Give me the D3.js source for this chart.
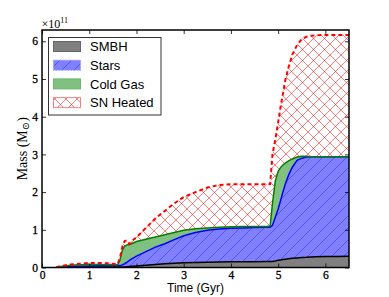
<!DOCTYPE html>
<html>
<head>
<meta charset="utf-8">
<script src="https://cdn.jsdelivr.net/npm/d3@7"></script>
<style>
    body { margin: 0; background: #fff; }
    svg { display: block; }
</style>
</head>
<body>
<div id="page"></div>
<script>
// data (masses in units of 1e11 Msun, cumulative tops of each band)
const time_gyr = [0.3, 0.4, 0.6, 0.8, 1.0, 1.2, 1.4, 1.6, 1.65, 1.7, 1.75, 1.8, 1.85, 1.9, 2.0, 2.2, 2.4, 2.6, 2.8, 3.0,
    3.25, 3.5, 3.75, 4.0, 4.25, 4.5, 4.75, 4.83, 4.88, 4.94, 5.0, 5.05, 5.1, 5.15, 5.22, 5.3, 5.4, 5.5, 5.6, 5.7,
    5.8, 6.0, 6.25, 6.5];
const smbh_top = [0, 0.005, 0.01, 0.01, 0.01, 0.01, 0.01, 0.01, 0.01, 0.012, 0.015, 0.02, 0.025, 0.03, 0.04, 0.06, 0.08, 0.1, 0.115, 0.125,
    0.135, 0.14, 0.145, 0.15, 0.152, 0.155, 0.157, 0.158, 0.16, 0.17, 0.19, 0.2, 0.21, 0.22, 0.235, 0.245, 0.255, 0.265, 0.27, 0.28,
    0.285, 0.29, 0.295, 0.3];
const stars_top = [0, 0.01, 0.03, 0.035, 0.04, 0.045, 0.045, 0.05, 0.05, 0.07, 0.1, 0.14, 0.19, 0.23, 0.3, 0.42, 0.54, 0.63, 0.74, 0.84,
    0.93, 0.99, 1.02, 1.04, 1.05, 1.06, 1.07, 1.07, 1.12, 1.33, 1.55, 1.77, 2.0, 2.21, 2.45, 2.66, 2.84, 2.9, 2.93, 2.94,
    2.94, 2.94, 2.94, 2.94];
const cold_gas_top = [0, 0.03, 0.06, 0.07, 0.08, 0.08, 0.075, 0.07, 0.2, 0.45, 0.57, 0.6, 0.61, 0.63, 0.69, 0.75, 0.81, 0.87, 0.93, 0.99,
    1.03, 1.05, 1.07, 1.08, 1.085, 1.09, 1.09, 1.1, 1.7, 2.3, 2.55, 2.65, 2.72, 2.77, 2.83, 2.88, 2.93, 2.95, 2.95, 2.94,
    2.94, 2.94, 2.94, 2.94];
const sn_heated_top = [0, 0.04, 0.08, 0.1, 0.12, 0.12, 0.11, 0.09, 0.25, 0.55, 0.7, 0.72, 0.62, 0.7, 0.8, 1.05, 1.3, 1.5, 1.7, 1.87,
    2.0, 2.12, 2.19, 2.21, 2.21, 2.21, 2.21, 2.21, 3.0, 3.4, 3.85, 4.25, 4.6, 4.96, 5.31, 5.65, 5.9, 6.06, 6.12, 6.15,
    6.16, 6.17, 6.17, 6.17];
const x_ticks = [0, 1, 2, 3, 4, 5, 6];
const y_ticks = [0, 1, 2, 3, 4, 5, 6];
const legend_labels = ["SMBH", "Stars", "Cold Gas", "SN Heated"];

// cons
const w = 389;
const h = 297;
const m_left = 42, m_right = 349, m_top = 30, m_bottom = 267.5;
const serif = "'Liberation Serif', 'DejaVu Serif', serif";
const sans = "'Liberation Sans', Arial, sans-serif";

const svg = d3.select("#page").append("svg").attr("width", w).attr("height", h);

const x = d3.scaleLinear().domain([0, 6.5]).range([m_left, m_right]);
const y = d3.scaleLinear().domain([0, 6.3]).range([m_bottom, m_top]);

// hatch patterns
const defs = svg.append("defs");
const p_stars = defs.append("pattern")
    .attr("id", "hatch-stars").attr("patternUnits", "userSpaceOnUse")
    .attr("width", 12).attr("height", 12);
p_stars.append("rect").attr("width", 12).attr("height", 12).attr("fill", "#8080ff");
p_stars.append("path")
    .attr("d", "M0,12 L12,0 M-3,3 L3,-3 M9,15 L15,9")
    .attr("stroke", "#4a4af0").attr("stroke-width", 0.8);

const p_sn = defs.append("pattern")
    .attr("id", "hatch-sn").attr("patternUnits", "userSpaceOnUse")
    .attr("width", 11).attr("height", 11);
p_sn.append("rect").attr("width", 11).attr("height", 11).attr("fill", "#fff");
p_sn.append("path")
    .attr("d", "M0,0 L11,11 M0,11 L11,0 M-3,3 L3,-3 M8,14 L14,8 M-3,8 L3,14 M8,-3 L14,3")
    .attr("stroke", "rgba(255,0,0,0.5)").attr("stroke-width", 1);

defs.append("clipPath").attr("id", "plot-clip")
    .append("rect").attr("x", m_left).attr("y", m_top)
    .attr("width", m_right - m_left).attr("height", m_bottom - m_top);

// rows for the bands
const rows = time_gyr.map((t, i) => ({
    t: t,
    smbh: smbh_top[i],
    stars: stars_top[i],
    gas: cold_gas_top[i],
    sn: sn_heated_top[i]
}));

const band = (lo, hi) => d3.area()
    .x(d => x(d.t))
    .y0(d => lo ? y(d[lo]) : y(0))
    .y1(d => y(d[hi]));
const top_line = (key) => d3.line().x(d => x(d.t)).y(d => y(d[key]));

const plot = svg.append("g").attr("clip-path", "url(#plot-clip)");

// bands from top to bottom
plot.append("path").datum(rows).attr("d", band("gas", "sn")).attr("fill", "url(#hatch-sn)");
plot.append("path").datum(rows).attr("d", band("stars", "gas")).attr("fill", "#80c080");
plot.append("path").datum(rows).attr("d", band("smbh", "stars")).attr("fill", "url(#hatch-stars)");
plot.append("path").datum(rows).attr("d", band(null, "smbh")).attr("fill", "#808080");

// outlines
plot.append("path").datum(rows).attr("d", top_line("smbh"))
    .attr("fill", "none").attr("stroke", "#000").attr("stroke-width", 1.5);
plot.append("path").datum(rows).attr("d", top_line("stars"))
    .attr("fill", "none").attr("stroke", "#0000ff").attr("stroke-width", 1.5);
plot.append("path").datum(rows).attr("d", top_line("gas"))
    .attr("fill", "none").attr("stroke", "#008000").attr("stroke-width", 1.5);
plot.append("path").datum(rows).attr("d", top_line("sn"))
    .attr("fill", "none").attr("stroke", "#ff0000").attr("stroke-width", 2)
    .attr("stroke-dasharray", "4,3");

// axes, ticks pointing inward on all sides
const tick_len = 4;
const ax_bottom = svg.append("g").attr("transform", `translate(0,${m_bottom})`)
    .call(d3.axisBottom(x).tickValues(x_ticks).tickSize(-tick_len).tickPadding(3).tickFormat(d3.format("d")));
const ax_top = svg.append("g").attr("transform", `translate(0,${m_top})`)
    .call(d3.axisTop(x).tickValues(x_ticks).tickSize(-tick_len).tickFormat(""));
const ax_left = svg.append("g").attr("transform", `translate(${m_left},0)`)
    .call(d3.axisLeft(y).tickValues(y_ticks).tickSize(-tick_len).tickPadding(4).tickFormat(d3.format("d")));
const ax_right = svg.append("g").attr("transform", `translate(${m_right},0)`)
    .call(d3.axisRight(y).tickValues(y_ticks).tickSize(-tick_len).tickFormat(""));

[ax_bottom, ax_top, ax_left, ax_right].forEach((ax) => {
    ax.select(".domain").remove();
    ax.selectAll(".tick line").attr("stroke", "#000").attr("stroke-width", 0.8);
    ax.selectAll("text").attr("font-family", serif).attr("font-size", 11.5)
        .attr("fill", "#000").attr("stroke", "#000").attr("stroke-width", 0.3);
});

// frame
svg.append("rect")
    .attr("x", m_left).attr("y", m_top)
    .attr("width", m_right - m_left).attr("height", m_bottom - m_top)
    .attr("fill", "none").attr("stroke", "#000").attr("stroke-width", 1.5);

// offset text
const offset_text = svg.append("text")
    .attr("x", m_left - 0.5).attr("y", 28)
    .attr("font-family", serif).attr("font-size", 12).attr("fill", "#000");
offset_text.append("tspan").text("×10");
offset_text.append("tspan").attr("font-size", 8).attr("dy", -5).text("11");

// axis labels
svg.append("text")
    .attr("x", (m_left + m_right) / 2).attr("y", 292)
    .attr("text-anchor", "middle")
    .attr("font-family", sans).attr("font-size", 12).attr("fill", "#000")
    .text("Time (Gyr)");

const y_label = svg.append("text")
    .attr("transform", `translate(27,${(m_top + m_bottom) / 2}) rotate(-90)`)
    .attr("text-anchor", "middle")
    .attr("font-family", serif).attr("font-size", 14).attr("fill", "#000");
y_label.append("tspan").text("Mass (M");
y_label.append("tspan").attr("font-size", 10).attr("dy", 2).text("⊙");
y_label.append("tspan").attr("dy", -2).text(")");

// legend
const legend = svg.append("g");
legend.append("rect")
    .attr("x", 48.5).attr("y", 37.5).attr("width", 112.5).attr("height", 77.5)
    .attr("fill", "#fff").attr("stroke", "#333").attr("stroke-width", 1);

const swatch_style = [
    { fill: "#808080", stroke: "#666", dash: null },
    { fill: "url(#hatch-stars)", stroke: "#9a9aff", dash: "2,1" },
    { fill: "#80c080", stroke: "#6ab86a", dash: null },
    { fill: "url(#hatch-sn)", stroke: "#ff8080", dash: null }
];

legend_labels.forEach((label, i) => {
    const cy = 46.5 + i * 18.7;
    legend.append("rect")
        .attr("x", 53.5).attr("y", cy - 5).attr("width", 27).attr("height", 10)
        .attr("fill", swatch_style[i].fill)
        .attr("stroke", swatch_style[i].stroke).attr("stroke-width", 1)
        .attr("stroke-dasharray", swatch_style[i].dash);
    legend.append("text")
        .attr("x", 90).attr("y", cy + 4.6)
        .attr("font-family", sans).attr("font-size", 13).attr("fill", "#000")
        .text(label);
});
</script>
</body>
</html>
